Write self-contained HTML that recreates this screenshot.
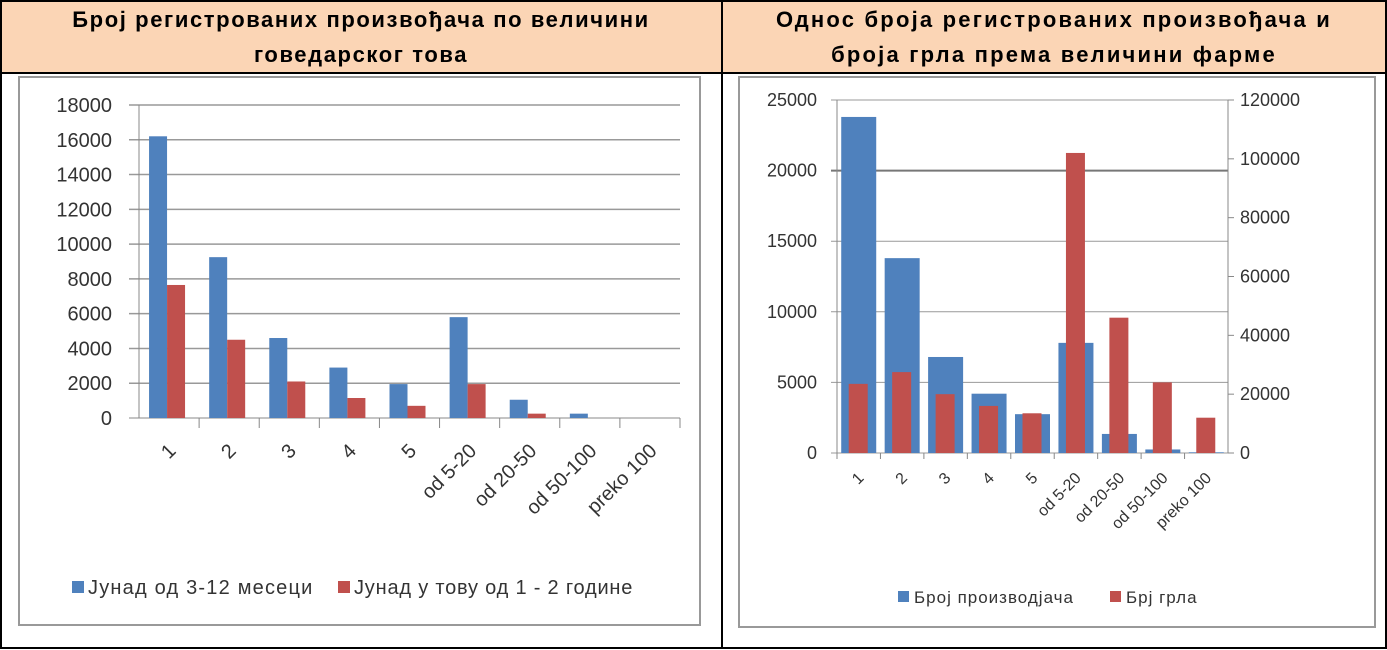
<!DOCTYPE html>
<html><head><meta charset="utf-8"><style>
body{margin:0;background:#fff;}
svg{display:block;font-family:"Liberation Sans","DejaVu Sans",sans-serif;}
</style></head><body>
<svg id="s" width="1387" height="650" xmlns="http://www.w3.org/2000/svg">
<rect x="1" y="1" width="1385" height="647" fill="#fff" stroke="#000" stroke-width="2"/>
<rect x="1" y="1" width="1385" height="72" fill="#fbd5b5" stroke="#000" stroke-width="2"/>
<line x1="722" y1="1" x2="722" y2="649" stroke="#000" stroke-width="2"/>
<text x="361" y="27" text-anchor="middle" font-size="22" font-weight="bold" letter-spacing="1.6">Број регистрованих произвођача по величини</text>
<text x="361" y="62" text-anchor="middle" font-size="22" font-weight="bold" letter-spacing="1.6">говедарског това</text>
<text x="1054" y="27" text-anchor="middle" font-size="22" font-weight="bold" letter-spacing="2.2">Однос броја регистрованих произвођача и</text>
<text x="1054" y="62" text-anchor="middle" font-size="22" font-weight="bold" letter-spacing="2.2">броја грла према величини фарме</text>
<rect x="19" y="77" width="681" height="548" fill="#fff" stroke="#999" stroke-width="2"/>
<rect x="739" y="77" width="636" height="550" fill="#fff" stroke="#999" stroke-width="2"/>
<g id="L"></g>
<g id="R"></g>
</svg>
<script>
const categories=["1","2","3","4","5","od 5-20","od 20-50","od 50-100","preko 100"];
const leftTicks=[0,2000,4000,6000,8000,10000,12000,14000,16000,18000];
const leftBlue=[16200,9250,4600,2900,1950,5800,1050,250,0];
const leftRed=[7650,4500,2100,1150,700,1950,250,0,0];
const rightTicksL=[0,5000,10000,15000,20000,25000];
const rightTicksR=[0,20000,40000,60000,80000,100000,120000];
const rightBlue=[23800,13800,6800,4200,2750,7800,1350,250,50];
const rightRed=[23500,27500,20000,16000,13500,102000,46000,24000,12000];
const NS="http://www.w3.org/2000/svg";
const BLUE="#4f81bd",RED="#c0504d";
function mk(p,t,a,txt){const e=document.createElementNS(NS,t);for(const k in a)e.setAttribute(k,a[k]);if(txt!==undefined)e.textContent=txt;p.appendChild(e);return e;}
// Left chart
(function(){
const g=document.getElementById('L');
const x0=139,x1=680,y0=418,y1=105,max=18000;
const y=v=>y0-(v/max)*(y0-y1);
const cw=(x1-x0)/categories.length;
leftTicks.forEach(t=>{
 const l=mk(g,'line',{x1:x0-10,x2:x1,y1:y(t),y2:y(t),stroke:t===0?'#888':'#999','stroke-width':t===0?1:1.5});
 
 
 const tx=mk(g,'text',{x:112,y:y(t)+7,'text-anchor':'end','font-size':20,fill:'#333'},t);
 
 
});
const ax=mk(g,'line',{x1:x0,x2:x0,y1:y1,y2:y0,stroke:'#888'});


categories.forEach((c,i)=>{
 const tk=mk(g,'line',{x1:x0+cw*(i+1),x2:x0+cw*(i+1),y1:y0,y2:y0+10,stroke:'#888'});
 
 
 const cx=x0+cw*i+cw/2;
 const b=mk(g,'rect',{x:cx-20,y:y(leftBlue[i]),width:18,height:y0-y(leftBlue[i]),fill:BLUE});
 
 
 const r=mk(g,'rect',{x:cx-2,y:y(leftRed[i]),width:18,height:y0-y(leftRed[i]),fill:RED});
 
 
 const lx=cx+8,ly=y0+34;
 const t=mk(g,'text',{x:lx,y:ly,'text-anchor':'end','font-size':20,fill:'#333',transform:`rotate(-45 ${lx} ${ly})`},c);
 
 
});
const lb=mk(g,'rect',{x:72,y:581,width:12,height:12,fill:BLUE});


const lt=mk(g,'text',{x:88,y:594,'font-size':20,'letter-spacing':1.2,fill:'#333'},'Јунад од 3-12 месеци');


const lr=mk(g,'rect',{x:338,y:581,width:12,height:12,fill:RED});


const lrt=mk(g,'text',{x:354,y:594,'font-size':20,'letter-spacing':0.8,fill:'#333'},'Јунад у тову од 1 - 2 године');


})();
// Right chart
(function(){
const g=document.getElementById('R');
const x0=837,x1=1228,y0=453,y1=100,maxL=25000,maxR=120000;
const yl=v=>y0-(v/maxL)*(y0-y1);
const yr=v=>y0-(v/maxR)*(y0-y1);
const cw=(x1-x0)/categories.length;
rightTicksL.forEach(t=>{
 const l=mk(g,'line',{x1:x0-6,x2:x1,y1:yl(t),y2:yl(t),stroke:t===20000?'#777':'#999','stroke-width':t===20000?2:1});
 
 
 const tx=mk(g,'text',{x:817,y:yl(t)+6,'text-anchor':'end','font-size':18,fill:'#333'},t);
 
 
});
rightTicksR.forEach(t=>{
 const l=mk(g,'line',{x1:x1,x2:x1+6,y1:yr(t),y2:yr(t),stroke:'#888'});
 
 
 const tx=mk(g,'text',{x:1240,y:yr(t)+6,'font-size':18,fill:'#333'},t);
 
 
});
const a1=mk(g,'line',{x1:x0,x2:x0,y1:y1,y2:y0,stroke:'#888'});


const a2=mk(g,'line',{x1:x1,x2:x1,y1:y1,y2:y0,stroke:'#888'});


categories.forEach((c,i)=>{
 const tk=mk(g,'line',{x1:x0+cw*i,x2:x0+cw*i,y1:y0,y2:y0+6,stroke:'#888'});
 
 
 const cx=x0+cw*i+cw/2;
 const b=mk(g,'rect',{x:cx-17.5,y:yl(rightBlue[i]),width:35,height:y0-yl(rightBlue[i]),fill:BLUE});
 
 
 const r=mk(g,'rect',{x:cx-10,y:yr(rightRed[i]),width:19,height:y0-yr(rightRed[i]),fill:RED});
 
 
 const lx=cx+6,ly=y0+26;
 const t=mk(g,'text',{x:lx,y:ly,'text-anchor':'end','font-size':16,fill:'#333',transform:`rotate(-45 ${lx} ${ly})`},c);
 
 
});
const lb=mk(g,'rect',{x:898,y:591,width:11,height:11,fill:BLUE});


const lt=mk(g,'text',{x:914,y:603,'font-size':17,'letter-spacing':1,fill:'#333'},'Број производјача');


const lr=mk(g,'rect',{x:1110,y:591,width:11,height:11,fill:RED});


const lrt=mk(g,'text',{x:1126,y:603,'font-size':17,'letter-spacing':1,fill:'#333'},'Брј грла');


})();
</script>
</body></html>
